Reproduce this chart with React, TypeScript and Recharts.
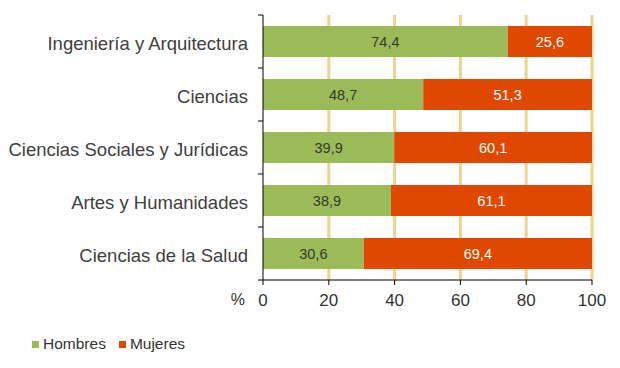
import React from 'react'
import { BarChart, Bar, XAxis, YAxis, CartesianGrid, LabelList } from 'recharts'

const categories = [
  'Ingeniería y Arquitectura',
  'Ciencias',
  'Ciencias Sociales y Jurídicas',
  'Artes y Humanidades',
  'Ciencias de la Salud',
]
const hombres = [74.4, 48.7, 39.9, 38.9, 30.6]
const mujeres = [25.6, 51.3, 60.1, 61.1, 69.4]
const xTicks = [0, 20, 40, 60, 80, 100]
const seriesNames = ['Hombres', 'Mujeres']
const seriesColors = ['#9bbb59', '#e04800']

const data = categories.map((c, i) => ({ name: c, Hombres: hombres[i], Mujeres: mujeres[i] }))

const FONT = '"Liberation Sans", Arial, sans-serif'
const W = 620
const H = 368
const MARGIN = { top: 15, right: 28, left: 0, bottom: 58 }
const PLOT_H = H - MARGIN.top - MARGIN.bottom - 30
const BAND = PLOT_H / categories.length

const fmt = (v: any) => Number(v).toFixed(1).replace('.', ',')

// Excel style: tick marks sit on the band boundaries, not at the centres
const CategoryTick = (props: any) => {
  const { x, y, payload, index } = props
  const axisX = x + 15
  return (
    <g>
      <line x1={axisX - 5} x2={axisX} y1={y - BAND / 2} y2={y - BAND / 2} stroke="#000" />
      {index === categories.length - 1 ? (
        <line x1={axisX - 5} x2={axisX} y1={y + BAND / 2} y2={y + BAND / 2} stroke="#000" />
      ) : null}
      <text x={x} y={y + 2} dy="0.355em" textAnchor="end" fill="#404040" fontSize={18.5} fontFamily={FONT}>
        {payload.value}
      </text>
    </g>
  )
}

// grid lines for every tick except 0 (that one is the axis)
const gridX = ({ offset }: any) =>
  xTicks.filter((t) => t > 0).map((t) => offset.left + (offset.width * t) / 100)

export default function App() {
  return (
    <div style={{ position: 'absolute', left: 0, top: 0, width: W, height: H, background: '#fff' }}>
      <BarChart width={W} height={H} data={data} layout="vertical" margin={MARGIN} barSize={31}>
        <CartesianGrid horizontal={false} stroke="#ecd490" strokeWidth={3} verticalCoordinatesGenerator={gridX} />
        <XAxis
          type="number"
          domain={[0, 100]}
          ticks={xTicks}
          interval={0}
          height={30}
          axisLine={{ stroke: '#000' }}
          tickLine={{ stroke: '#000' }}
          tickSize={5}
          tickMargin={9}
          tick={{ fill: '#333', fontSize: 17, fontFamily: FONT }}
          label={{ value: '%', position: 'left', offset: 18, fill: '#333', fontSize: 16, fontFamily: FONT, dy: 4 }}
        />
        <YAxis
          type="category"
          dataKey="name"
          width={263}
          axisLine={{ stroke: '#000' }}
          tickLine={false}
          tickSize={5}
          tickMargin={10}
          tick={<CategoryTick />}
        />
        <Bar dataKey="Hombres" stackId="a" fill={seriesColors[0]} isAnimationActive={false}>
          <LabelList dataKey="Hombres" position="center" formatter={fmt} fill="#363a2a" fontSize={14.5} fontFamily={FONT} />
        </Bar>
        <Bar dataKey="Mujeres" stackId="a" fill={seriesColors[1]} isAnimationActive={false}>
          <LabelList dataKey="Mujeres" position="center" formatter={fmt} fill="#fff" fontSize={14.5} fontFamily={FONT} />
        </Bar>
      </BarChart>
      <div
        style={{
          position: 'absolute',
          left: 32,
          top: 335,
          display: 'flex',
          alignItems: 'center',
          fontFamily: FONT,
          fontSize: 15.5,
          color: '#333',
        }}
      >
        {seriesNames.map((n, i) => (
          <span key={n} style={{ display: 'flex', alignItems: 'center', marginRight: 13 }}>
            <span style={{ width: 7, height: 7, background: seriesColors[i], marginRight: 4 }} />
            {n}
          </span>
        ))}
      </div>
    </div>
  )
}
